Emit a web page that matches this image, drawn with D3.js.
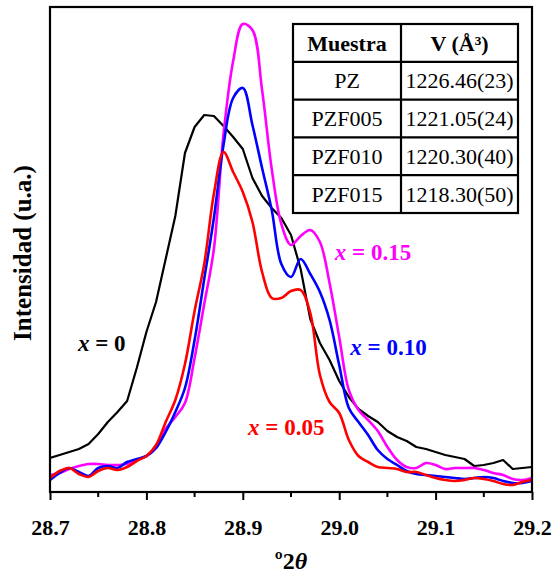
<!DOCTYPE html>
<html>
<head>
<meta charset="utf-8">
<script src="https://cdn.jsdelivr.net/npm/d3@7"></script>
<style>
    body { margin: 0; background: #fff; }
    text { font-family: "Liberation Serif", "Times New Roman", serif; }
</style>
</head>
<body>
<div id="viz"></div>
<script>
/**
 * 2theta positions, one every 0.01 degrees
 */
var twoTheta = d3.range(0, 51).map(function (i) { return +(28.7 + i * 0.01).toFixed(2); });

// intensities (arbitrary units)
var pz = [68, 74, 80, 86, 96, 116, 140, 160, 182, 248, 320, 380, 466, 552, 678, 730, 754, 752, 732, 710,
    686, 628, 592, 568, 548, 514, 446, 346, 298, 264, 222, 190, 166, 152, 140, 122, 110, 102, 90, 86,
    80, 74, 70, 66, 52, 54, 58, 64, 46, 48, 50];
var pzf005 = [28, 42, 48, 36, 30, 42, 48, 44, 50, 62, 72, 94, 140, 184, 256, 362, 456, 596, 680, 640,
    600, 540, 440, 388, 388, 402, 404, 358, 234, 180, 158, 104, 72, 60, 50, 48, 46, 40, 40, 34,
    28, 24, 22, 24, 28, 26, 22, 16, 14, 20, 24];
var pzf010 = [24, 38, 48, 40, 32, 48, 52, 48, 60, 66, 72, 88, 120, 160, 208, 304, 426, 548, 694, 788,
    808, 734, 648, 564, 456, 430, 466, 436, 400, 344, 254, 168, 140, 114, 84, 66, 54, 42, 36, 34,
    32, 30, 28, 26, 28, 30, 28, 22, 18, 18, 22];
var pzf015 = [34, 38, 46, 52, 56, 56, 54, 54, 56, 64, 72, 88, 126, 150, 178, 268, 376, 486, 716, 862,
    936, 924, 804, 646, 536, 494, 512, 524, 500, 418, 310, 204, 164, 144, 122, 90, 64, 50, 48, 58,
    54, 46, 48, 48, 48, 44, 38, 34, 26, 24, 28];

var xTicks = [28.7, 28.8, 28.9, 29.0, 29.1, 29.2];
var xMinorTicks = [28.75, 28.85, 28.95, 29.05, 29.15];

var sampleNames = ["PZ", "PZF005", "PZF010", "PZF015"];
var cellVolumes = ["1226.46(23)", "1221.05(24)", "1220.30(40)", "1218.30(50)"];

/**
 * draws the whole figure
 */
const createViz = () => {

    var margin = { top: 7, right: 23, bottom: 82, left: 50 },
        width = 555 - margin.left - margin.right,
        height = 574 - margin.top - margin.bottom;

    var svg = d3.select("#viz")
        .append("svg")
        .attr("width", 555)
        .attr("height", 574)
        .append("g")
        .attr("transform", "translate(" + margin.left + "," + margin.top + ")");

    var x = d3.scaleLinear()
        .domain([28.7, 29.2])
        .range([0, width]);

    var y = d3.scaleLinear()
        .domain([0, 970])
        .range([height, 0]);

    svg.append("clipPath")
        .attr("id", "plotClip")
        .append("rect")
        .attr("width", width)
        .attr("height", height);

    // the four patterns, red drawn last
    var series = [
        { values: pz, color: "#000000", curve: d3.curveLinear, w: 2.2 },
        { values: pzf015, color: "#ff00ff", curve: d3.curveCatmullRom.alpha(0.5), w: 2.6 },
        { values: pzf010, color: "#0000ff", curve: d3.curveCatmullRom.alpha(0.5), w: 2.6 },
        { values: pzf005, color: "#ff0000", curve: d3.curveCatmullRom.alpha(0.5), w: 2.6 }
    ];

    series.forEach(function (s) {
        var line = d3.line()
            .x(function (d, i) { return x(twoTheta[i]); })
            .y(function (d) { return y(d); })
            .curve(s.curve);
        svg.append("path")
            .datum(s.values)
            .attr("clip-path", "url(#plotClip)")
            .attr("fill", "none")
            .attr("stroke", s.color)
            .attr("stroke-width", s.w)
            .attr("stroke-linejoin", "round")
            .attr("d", line);
    });

    // bottom axis, major and minor ticks
    var xAxis = svg.append("g")
        .attr("transform", "translate(0," + height + ")")
        .call(d3.axisBottom(x).tickValues(xTicks).tickSize(8).tickFormat(d3.format(".1f")));
    xAxis.select(".domain").remove();
    xAxis.selectAll("line").attr("stroke-width", 2);
    xAxis.selectAll("text")
        .attr("dy", "1.45em")
        .style("font-size", "22px")
        .style("font-weight", "bold")
        .style("font-family", "'Liberation Serif', serif");

    svg.append("g")
        .attr("transform", "translate(0," + height + ")")
        .selectAll("line")
        .data(xMinorTicks)
        .enter()
        .append("line")
        .attr("x1", function (d) { return x(d); })
        .attr("x2", function (d) { return x(d); })
        .attr("y1", 0)
        .attr("y2", 5)
        .attr("stroke", "#000")
        .attr("stroke-width", 2);

    // frame
    svg.append("rect")
        .attr("width", width)
        .attr("height", height)
        .attr("fill", "none")
        .attr("stroke", "#000")
        .attr("stroke-width", 2.2);

    // curve labels
    var labels = [
        { t: 28.729, v: 282, text: "0", color: "#000000" },
        { t: 28.9955, v: 464, text: "0.15", color: "#ff00ff" },
        { t: 29.0115, v: 274, text: "0.10", color: "#0000ff" },
        { t: 28.9055, v: 114, text: "0.05", color: "#ff0000" }
    ];
    labels.forEach(function (l) {
        var lab = svg.append("text")
            .attr("x", x(l.t))
            .attr("y", y(l.v))
            .attr("fill", l.color)
            .style("font-size", "23px")
            .style("font-weight", "bold");
        lab.append("tspan").style("font-style", "italic").text("x");
        lab.append("tspan").text(" = " + l.text);
    });

    // axis titles
    var xt = svg.append("text")
        .attr("x", width / 2)
        .attr("y", height + 77)
        .style("text-anchor", "middle")
        .style("font-size", "24px")
        .style("font-weight", "bold");
    xt.append("tspan").text("\u00BA2");
    xt.append("tspan").style("font-style", "italic").text("\u03B8");

    svg.append("text")
        .attr("transform", "rotate(-90)")
        .attr("x", 0 - 246)
        .attr("y", 0 - margin.left + 31)
        .style("text-anchor", "middle")
        .style("font-size", "25px")
        .style("font-weight", "bold")
        .text("Intensidad (u.a.)");

    // inset table with cell volumes
    var tbl = svg.append("g").attr("transform", "translate(243,17)");
    var colW = [108, 117], rowH = 37.8;
    var rows = [["Muestra", "V (\u00C5\u00B3)"]].concat(sampleNames.map(function (n, i) { return [n, cellVolumes[i]]; }));

    tbl.append("rect")
        .attr("width", colW[0] + colW[1])
        .attr("height", rowH * rows.length)
        .attr("fill", "#fff")
        .attr("stroke", "#000")
        .attr("stroke-width", 2.2);
    tbl.append("line")
        .attr("x1", colW[0]).attr("x2", colW[0])
        .attr("y1", 0).attr("y2", rowH * rows.length)
        .attr("stroke", "#000").attr("stroke-width", 2.2);
    rows.forEach(function (r, i) {
        if (i > 0) {
            tbl.append("line")
                .attr("x1", 0).attr("x2", colW[0] + colW[1])
                .attr("y1", i * rowH).attr("y2", i * rowH)
                .attr("stroke", "#000").attr("stroke-width", 2.2);
        }
        r.forEach(function (c, j) {
            tbl.append("text")
                .attr("x", j === 0 ? colW[0] / 2 : colW[0] + colW[1] / 2)
                .attr("y", i * rowH + rowH / 2)
                .attr("dy", "0.35em")
                .style("text-anchor", "middle")
                .style("font-size", "22px")
                .style("font-weight", i === 0 ? "bold" : "normal")
                .text(c);
        });
    });
};

createViz();
</script>
</body>
</html>
